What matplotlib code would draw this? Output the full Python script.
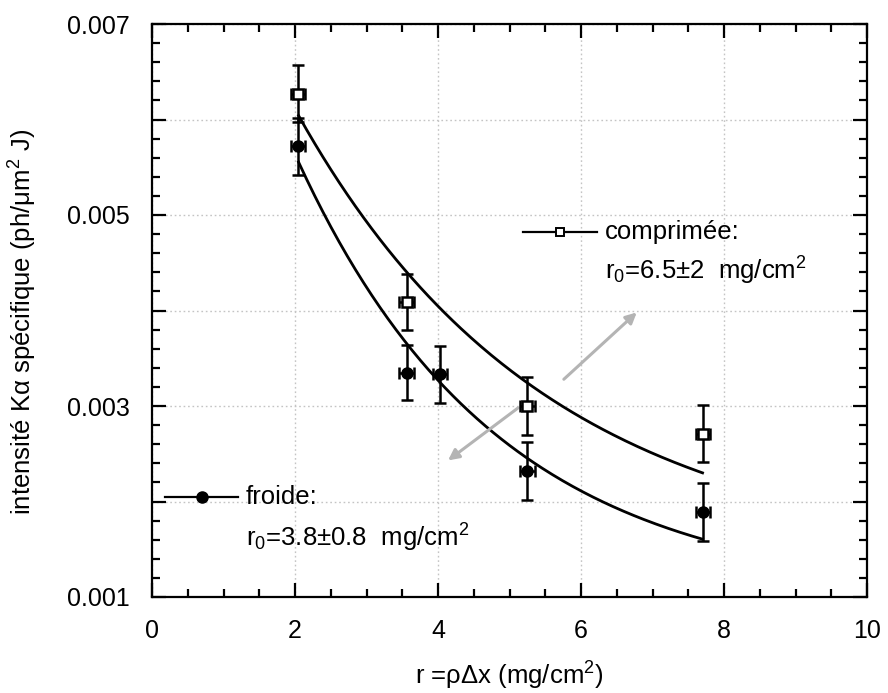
#!/usr/bin/env python3

"""
Specific K-alpha intensity vs areal density, cold vs compressed target
"""

import numpy as np
import matplotlib
matplotlib.use("Agg")
import matplotlib.pyplot as plt
from matplotlib.ticker import MultipleLocator, FixedLocator, FixedFormatter

plt.rcParams["font.family"] = ["Liberation Sans", "DejaVu Sans"]
plt.rcParams["mathtext.fontset"] = "custom"
plt.rcParams["mathtext.rm"] = "Liberation Sans"
plt.rcParams["mathtext.it"] = "Liberation Sans:italic"

# Data

# froide (cold), filled circles
x_froide = [2.04, 3.56, 4.03, 5.25, 7.71]
y_froide = [0.00572, 0.00335, 0.00333, 0.00232, 0.00189]
yerr_froide = [0.0003, 0.00029, 0.0003, 0.0003, 0.0003]
xerr_froide = [0.1, 0.1, 0.1, 0.1, 0.1]

# comprimee (compressed), open squares
x_comp = [2.04, 3.56, 5.25, 7.71]
y_comp = [0.00627, 0.00409, 0.00300, 0.00271]
yerr_comp = [0.0003, 0.00029, 0.0003, 0.0003]
xerr_comp = [0.1, 0.1, 0.1, 0.1]

# exponential fit curves: A * exp(-x / k) + c
fit_froide = dict(A=0.00947, k=2.8, c=0.0010)
fit_comp = dict(A=0.00839, k=3.5, c=0.00137)
fit_range = (2.05, 7.7)

# Figure

fig = plt.figure(figsize=(8.88, 6.93), dpi=100)
ax = fig.add_axes([152 / 888, 96 / 693, 715 / 888, 573 / 693])

xs = np.linspace(fit_range[0], fit_range[1], 200)
for p in (fit_froide, fit_comp):
    ax.plot(xs, p["A"] * np.exp(-xs / p["k"]) + p["c"], color="black", lw=2.0, zorder=3)

ax.errorbar(
    x_froide, y_froide, yerr=yerr_froide, xerr=xerr_froide,
    fmt="o", color="black", ms=8, elinewidth=1.8, capsize=4, capthick=1.8, zorder=4,
)
ax.errorbar(
    x_comp, y_comp, yerr=yerr_comp, xerr=xerr_comp,
    fmt="s", color="black", mfc="white", mec="black", mew=1.8, ms=7.5,
    elinewidth=1.8, capsize=4, capthick=1.8, zorder=4,
)

# Axes setup

ax.set_xlim(0, 10)
ax.set_ylim(0.001, 0.007)
ax.xaxis.set_major_locator(MultipleLocator(2))
ax.xaxis.set_minor_locator(MultipleLocator(0.5))
yt = [0.001, 0.002, 0.003, 0.004, 0.005, 0.006, 0.007]
ax.yaxis.set_major_locator(FixedLocator(yt))
ax.yaxis.set_major_formatter(FixedFormatter(["0.001", "", "0.003", "", "0.005", "", "0.007"]))
ax.yaxis.set_minor_locator(MultipleLocator(0.0002))

ax.tick_params(which="both", direction="in", top=True, right=True, width=1.6, labelsize=18)
ax.tick_params(which="major", length=10)
ax.tick_params(which="minor", length=5.5)
ax.tick_params(axis="x", which="major", pad=16)
ax.tick_params(axis="y", which="major", pad=16)
for s in ax.spines.values():
    s.set_linewidth(1.6)

ax.grid(True, which="major", color="#c4c4c4", linestyle=(0, (1.2, 2)), linewidth=1.0)
ax.set_axisbelow(True)

ax.set_xlabel("r =ρΔx (mg/cm$^2$)", fontsize=18.5, labelpad=12)
ax.set_ylabel("intensité Kα spécifique (ph/μm$^2$ J)", fontsize=18.5)
ax.yaxis.set_label_coords(-0.158, 0.48)

# legend-like annotations

ax.plot([0.18, 1.2], [0.00205, 0.00205], color="black", lw=1.6, clip_on=False)
ax.plot([0.70], [0.00205], "o", color="black", ms=8)
ax.text(1.31, 0.00197, "froide:", fontsize=18.5, va="baseline")
ax.text(1.31, 0.00153, "r$_0$=3.8±0.8  mg/cm$^2$", fontsize=18.5, va="baseline")

ax.plot([5.19, 6.22], [0.00482, 0.00482], color="black", lw=1.6)
ax.plot([5.71], [0.00482], "s", color="black", mfc="white", mew=1.4, ms=6)
ax.text(6.34, 0.00475, "comprimée:", fontsize=18.5, va="baseline")
ax.text(6.34, 0.00432, "r$_0$=6.5±2  mg/cm$^2$", fontsize=18.5, va="baseline")

arrow_kw = dict(arrowstyle="-|>", color="#b4b4b4", lw=2.2, mutation_scale=16,
                shrinkA=0, shrinkB=0)
ax.annotate("", xy=(6.78, 0.00398), xytext=(5.76, 0.00328), arrowprops=arrow_kw)
ax.annotate("", xy=(4.14, 0.00243), xytext=(5.12, 0.00298), arrowprops=arrow_kw)

fig.savefig("out.png", dpi=100)
